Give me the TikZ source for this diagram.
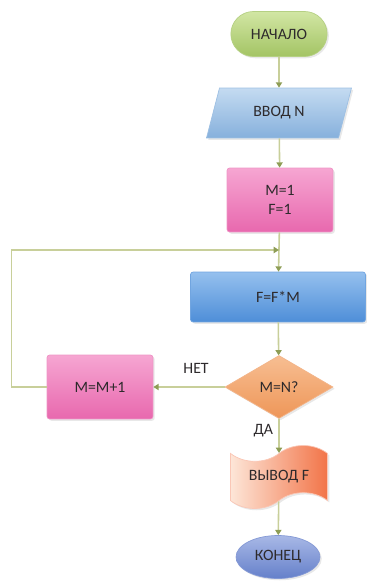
\documentclass[tikz,border=0pt]{standalone}
\usepackage{fontspec}
\setmainfont{Carlito}
\usetikzlibrary{shapes.geometric,shapes.misc,shapes.symbols,arrows.meta,shadows}

\definecolor{linkcol}{HTML}{C8CF9A}
\definecolor{tipcol}{HTML}{8E9D55}
\definecolor{txtcol}{HTML}{2E2A2C}
\definecolor{greentop}{HTML}{D2E6A4}
\definecolor{greenbot}{HTML}{A3C464}
\definecolor{iotop}{HTML}{C4DBF1}
\definecolor{iobot}{HTML}{86B0DC}
\definecolor{pinktop}{HTML}{F6A6D2}
\definecolor{pinkbot}{HTML}{E868AE}
\definecolor{bluetop}{HTML}{95C0EE}
\definecolor{bluebot}{HTML}{4E8ED8}
\definecolor{orangetop}{HTML}{F7BE92}
\definecolor{orangebot}{HTML}{EE9658}
\definecolor{peachleft}{HTML}{FDE6D8}
\definecolor{peachright}{HTML}{F27448}
\definecolor{endtop}{HTML}{A8B8E6}
\definecolor{endbot}{HTML}{6580CA}

\tikzset{
  every node/.style={font=\fontsize{9}{11}\selectfont, text=txtcol},
  soft/.style={drop shadow={opacity=0.18, shadow xshift=1pt, shadow yshift=-1pt}},
  terminal/.style={rounded rectangle, soft, minimum width=2.16cm, minimum height=0.9cm,
    draw=greenbot!80, top color=greentop, bottom color=greenbot},
  iobox/.style={trapezium, trapezium left angle=62, trapezium right angle=118, soft,
    minimum width=2.9cm, minimum height=1cm, trapezium stretches body,
    draw=iobot!80, top color=iotop, bottom color=iobot},
  pinkbox/.style={rectangle, rounded corners=1.5pt, soft, minimum width=2.12cm, minimum height=1.28cm,
    draw=pinkbot!70, top color=pinktop, bottom color=pinkbot, align=center},
  bluebox/.style={rectangle, rounded corners=1.5pt, soft, minimum width=3.5cm, minimum height=1cm,
    draw=bluebot!80, top color=bluetop, bottom color=bluebot},
  decide/.style={diamond, aspect=1.7, soft, minimum width=2.16cm, minimum height=1.26cm, inner sep=0pt,
    draw=orangebot!70, top color=orangetop, bottom color=orangebot},
  outbox/.style={tape, tape bend top=in and out, tape bend bottom=in and out, tape bend height=9pt, soft,
    minimum width=1.94cm, minimum height=1.26cm,
    draw=peachright!40, left color=peachleft, right color=peachright},
  endbox/.style={ellipse, soft, minimum width=1.68cm, minimum height=0.86cm,
    draw=endbot!80, top color=endtop, bottom color=endbot},
  link/.style={draw=linkcol, line width=0.9pt, -{Triangle[length=3pt,width=3.5pt,color=tipcol,fill=tipcol]}},
  lbl/.style={fill=white, inner sep=2pt}
}

\begin{document}
\begin{tikzpicture}[x=0.02cm, y=0.02cm]
   \useasboundingbox (0,0) rectangle (366,-581);

   % blocks
   \node[terminal] (start) at (279,-34) {НАЧАЛО};
   \node[iobox] (input) at (279,-113) {ВВОД N};
   \node[pinkbox] (init) at (280,-200) {M=1\\F=1};
   \node[bluebox] (calc) at (278,-297) {F=F*M};
   \node[decide] (check) at (279,-387) {M=N?};
   \node[pinkbox] (incr) at (100,-387) {M=M+1};
   \node[outbox] (output) at (279,-477) {ВЫВОД F};
   \node[endbox] (stop) at (278,-557) {КОНЕЦ};
   \coordinate (join) at (279,-250);

   % connectors
   \draw[link] (start) -- (input);
   \draw[link] (input) -- (init);
   \draw[link] (init) -- (calc);
   \draw[link] (calc) -- (check);
   \draw[link] (check) -- node[lbl, above, yshift=5pt, xshift=4pt]{НЕТ} (incr);
   \draw[link] (incr.west) -- ++(-35,0) |- (join);
   \draw[link] (check) -- node[lbl, left, xshift=-1pt, yshift=3pt]{ДА} (output);
   \draw[link] (output) -- (stop);
\end{tikzpicture}
\end{document}
